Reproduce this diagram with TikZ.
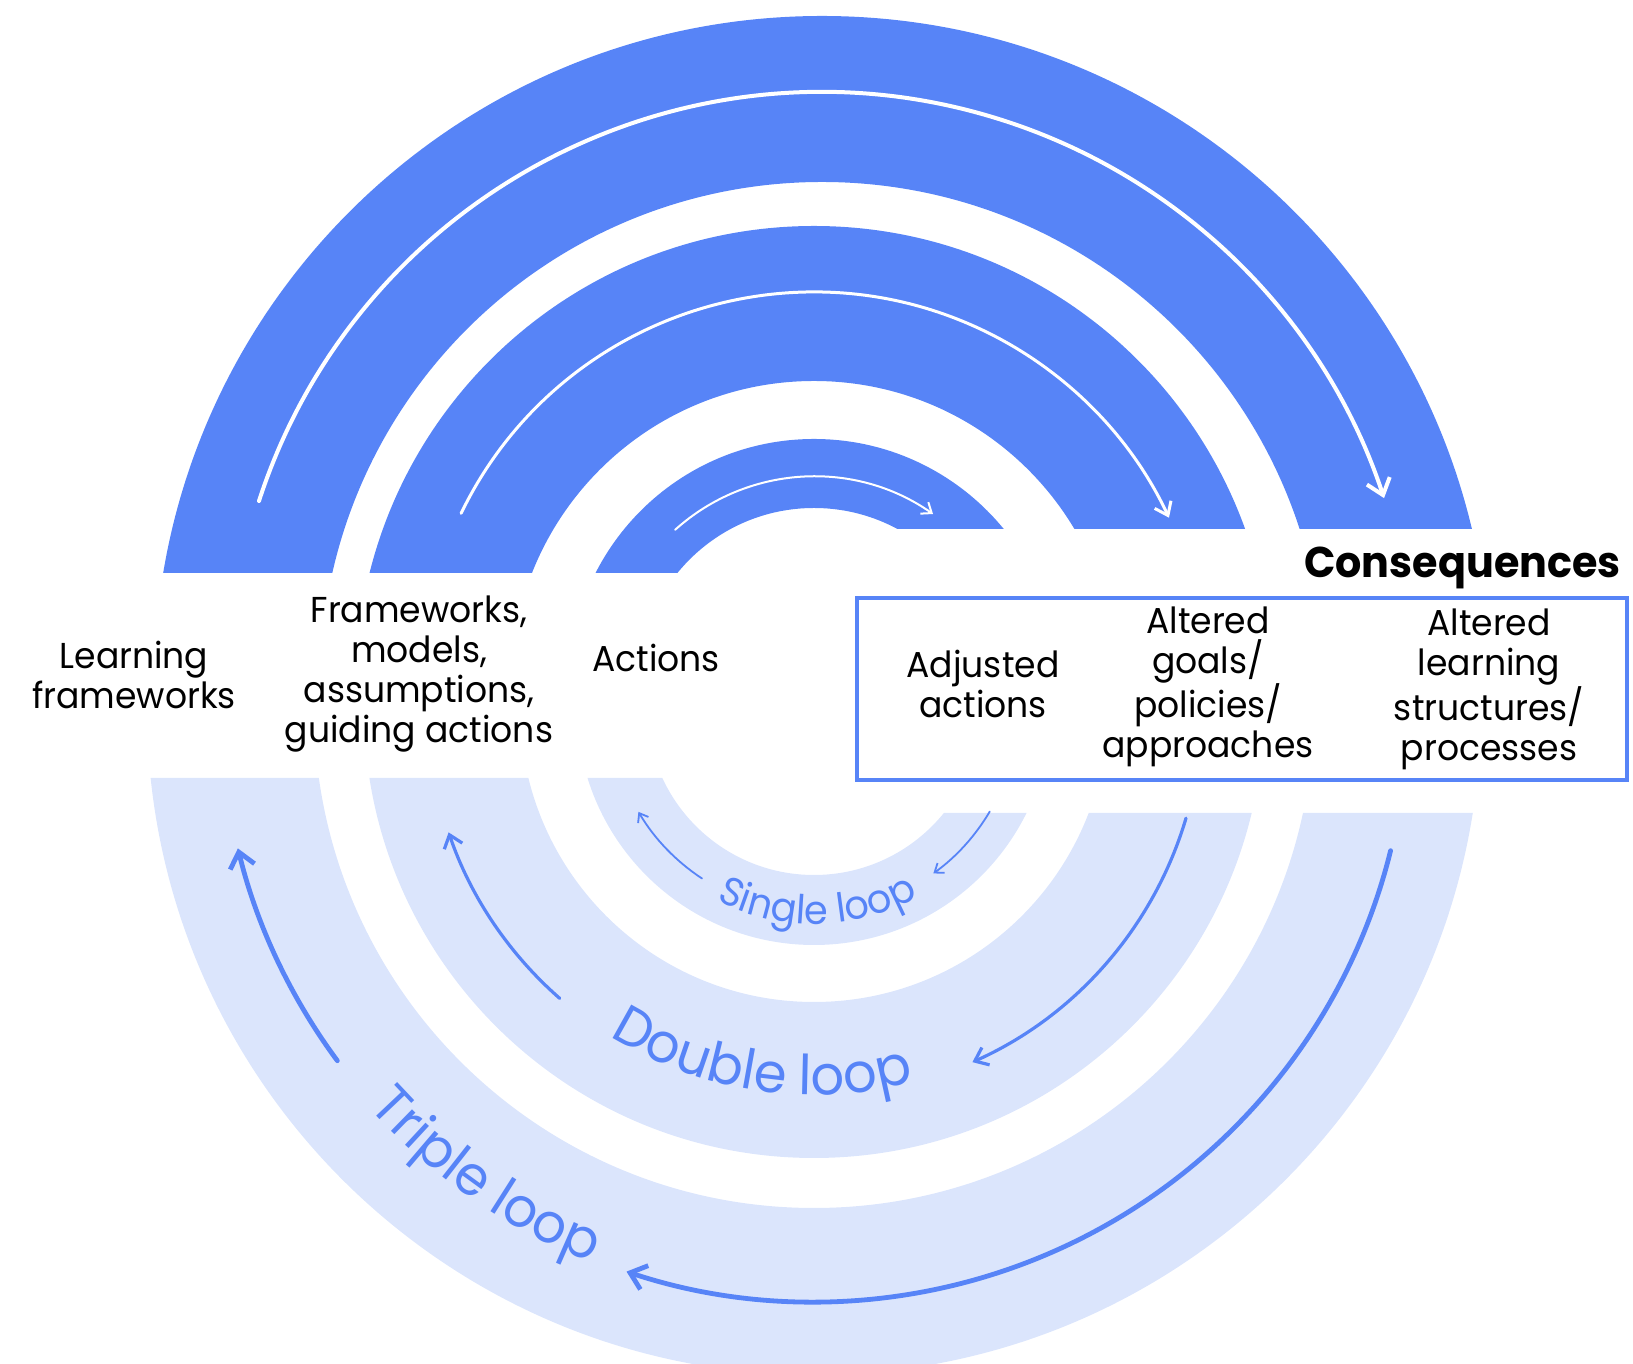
\documentclass[tikz,border=0pt]{standalone}
\usepackage{fontspec}
\setmainfont{Poppins}[FakeStretch=0.96]
\usetikzlibrary{arrows.meta,decorations.text}
\definecolor{dblue}{HTML}{5784F7}
\definecolor{lblue}{HTML}{DBE5FC}
\begin{document}
\begin{tikzpicture}[x=1pt,y=1pt,
  lbl/.style={align=center,font=\fontsize{36}{40}\selectfont,inner sep=0pt},
  warrow/.style={white,line cap=round},
  barrow/.style={dblue,line cap=round},
  looptext/.style={decorate,decoration={text along path,text align=center,text={#1}}}
]
\useasboundingbox (0,0) rectangle (1633,1364);
\coordinate (T) at (814,680);
\coordinate (T3) at (822,680);
\coordinate (B) at (814,656);
% ---- top rings (dark)
\begin{scope}
  \clip (0,791) -- (814,791) -- (814,835) -- (1633,835) -- (1633,1364) -- (0,1364) -- cycle;
  \fill[dblue,even odd rule] (T) circle[radius=245pt] (T) circle[radius=176pt];
  \fill[dblue,even odd rule] (T) circle[radius=458pt] (T) circle[radius=303pt];
  \fill[dblue,even odd rule] (T3) circle[radius=668pt] (T3) circle[radius=502pt];
\end{scope}
% ---- bottom rings (light)
\begin{scope}
  \clip (0,586) -- (814,586) -- (814,551) -- (1633,551) -- (1633,-100) -- (0,-100) -- cycle;
  \fill[lblue,even odd rule] (B) circle[radius=237pt] (B) circle[radius=167pt];
  \fill[lblue,even odd rule] (B) circle[radius=450pt] (B) circle[radius=294pt];
  \fill[lblue,even odd rule] (B) circle[radius=667pt] (B) circle[radius=500pt];
\end{scope}
% ---- top white arrows
\draw[warrow,line width=2pt,-{Straight Barb[length=9pt,width=14pt]}]
  (T) ++(132:207.5pt) arc[start angle=132,end angle=55,radius=207.5pt];
\draw[warrow,line width=3pt,-{Straight Barb[length=12pt,width=18pt]}]
  (T) ++(154.2:392pt) arc[start angle=154.2,end angle=25.1,radius=392pt];
\draw[warrow,line width=4pt,-{Straight Barb[length=15pt,width=24pt]}]
  (T3) ++(162:592pt) arc[start angle=162,end angle=18.3,radius=592pt];
% ---- bottom blue arrows
\draw[barrow,line width=1.8pt,-{Straight Barb[length=8pt,width=12pt]}]
  (B) ++(236.7:204pt) arc[start angle=236.7,end angle=210.6,radius=204pt];
\draw[barrow,line width=1.8pt,-{Straight Barb[length=8pt,width=12pt]}]
  (B) ++(329.5:204pt) arc[start angle=329.5,end angle=305.8,radius=204pt];
\draw[barrow,line width=3.2pt,-{Straight Barb[length=12pt,width=19pt]}]
  (B) ++(228.8:386pt) arc[start angle=228.8,end angle=198.8,radius=386pt];
\draw[barrow,line width=3.2pt,-{Straight Barb[length=12pt,width=19pt]}]
  (B) ++(343.5:388pt) arc[start angle=343.5,end angle=294.1,radius=388pt];
\draw[barrow,line width=4.8pt,-{Straight Barb[length=15pt,width=25pt]}]
  (B) ++(216.5:593pt) arc[start angle=216.5,end angle=193.7,radius=593pt];
\draw[barrow,line width=4.8pt,-{Straight Barb[length=15pt,width=25pt]}]
  (B) ++(346.1:594pt) arc[start angle=346.1,end angle=251.6,radius=594pt];
% ---- loop texts
\path[looptext={|\fontsize{40}{40}\selectfont\color{dblue}|Single loop}]
  (B) ++(211:216pt) arc[start angle=211,end angle=331,radius=216pt];
\path[looptext={|\fontsize{55}{55}\selectfont\color{dblue}|Double loop}]
  (B) ++(201.5:387pt) arc[start angle=201.5,end angle=321.5,radius=387pt];
\path[looptext={|\fontsize{55}{55}\selectfont\color{dblue}|Triple loop}]
  (B) ++(195:598pt) arc[start angle=195,end angle=275,radius=598pt];
% ---- labels
\node[lbl] (lf) at (134,689) {Learning\\frameworks};
\node[lbl] (fm) at (419,690) {Frameworks,\\models,\\assumptions,\\guiding actions};
\node[lbl] (ac) at (656,706) {Actions};
\node[font=\fontsize{43}{43}\selectfont\bfseries,anchor=east,inner sep=0pt] (cq) at (1621,796) {Consequences};
\node[draw=dblue,line width=4pt,minimum width=770pt,minimum height=182pt,inner sep=0pt] (box) at (1242,675) {};
\node[lbl] (aa) at (983,680) {Adjusted\\actions};
\node[lbl] (ag) at (1208,677) {Altered\\goals/\\policies/\\approaches};
\node[lbl] (al) at (1489,674.5) {Altered\\learning\\structures/\\processes};
\end{tikzpicture}
\end{document}
